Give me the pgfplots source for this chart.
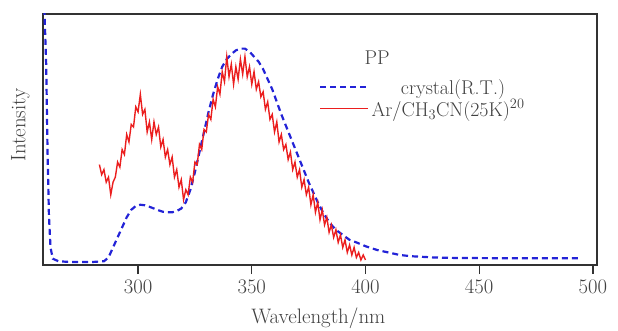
\documentclass[border=0pt]{standalone}
\usepackage{pgfplots}
\pgfplotsset{compat=1.18}
\definecolor{bluec}{RGB}{35,35,215}
\definecolor{redc}{RGB}{235,30,30}
\definecolor{axc}{RGB}{50,50,50}
\begin{document}
\begin{tikzpicture}
\begin{axis}[
  scale only axis, width=554bp, height=251bp,
  xmin=258.2, xmax=501.8, ymin=0, ymax=1,
  xtick={300,350,400,450,500}, ytick=\empty,
  xtick pos=bottom, tick align=outside,
  major tick length=9bp,
  axis line style={axc, line width=2.2bp},
  every tick/.style={axc, line width=1.2bp},
  ticklabel style={font=\fontsize{22}{23}\selectfont, text=black!75},
  xticklabel style={yshift=-3bp},
  xlabel={Wavelength/nm}, ylabel={Intensity},
  label style={font=\fontsize{21}{22}\selectfont, text=black!75},
  xlabel style={at={(axis description cs:0.497,-0.211)}, anchor=center},
  ylabel style={at={(axis description cs:-0.041,0.558)}, anchor=center},
  legend style={draw=none, fill=none, at={(axis description cs:0.493,0.757)}, anchor=north west,
    font=\fontsize{20}{21}\selectfont, text=black!75, row sep=0bp},
  legend image code/.code={\draw[mark repeat=2,mark phase=2,#1] plot coordinates {(0bp,0bp) (24bp,0bp) (48bp,0bp)};},
  clip=true,
]
\addplot[color=bluec, line width=2.2bp, dash pattern=on 6bp off 4bp] coordinates {
(258.8,1.02) (259.6,0.80) (260.2,0.45) (260.8,0.20) (261.5,0.07) (262.5,0.025)
(265,0.015) (270,0.012) (280,0.012) (285,0.015) (287,0.03) (289,0.07) (291,0.11)
(293,0.15) (295,0.19) (297,0.22) (299,0.235) (301,0.24) (303,0.238) (305,0.232)
(307,0.225) (309,0.218) (311,0.212) (313,0.21) (315,0.21) (317,0.215) (319,0.225)
(321,0.25) (323,0.30) (325,0.37) (327,0.45) (329,0.53) (331,0.61) (333,0.68)
(335,0.74) (337,0.79) (339,0.82) (341,0.84) (343,0.855) (345,0.862) (347,0.862)
(349,0.85) (351,0.83) (353,0.81) (355,0.78) (357,0.74) (359,0.70) (361,0.65)
(363,0.60) (365,0.555) (367,0.51) (369,0.465) (371,0.42) (373,0.375) (375,0.33)
(377,0.29) (379,0.25) (381,0.215) (383,0.185) (385,0.16) (387,0.14) (390,0.12)
(393,0.10) (396,0.09) (400,0.075) (405,0.06) (410,0.05) (415,0.04) (420,0.035)
(430,0.03) (440,0.028) (460,0.027) (480,0.027) (495,0.027)
};
\addlegendentry{\hspace{10bp}crystal(R.T.)}
\addplot[color=redc, line width=1.4bp] coordinates {
(283,0.40) (284,0.36) (285,0.38) (286,0.33) (287,0.35) (288,0.28) (289,0.33)
(290,0.35) (291,0.41) (292,0.39) (293,0.46) (294,0.44) (295,0.52) (296,0.49)
(297,0.56) (298,0.55) (299,0.63) (300,0.61) (301,0.68) (302,0.60) (303,0.62)
(304,0.53) (305,0.57) (306,0.50) (307,0.57) (308,0.52) (309,0.55) (310,0.47)
(311,0.50) (312,0.43) (313,0.46) (314,0.40) (315,0.43) (316,0.35) (317,0.38)
(318,0.31) (319,0.34) (320,0.26) (321,0.30) (322,0.28) (323,0.35) (324,0.33)
(325,0.41) (326,0.40) (327,0.48) (328,0.46) (329,0.54) (330,0.53) (331,0.60)
(332,0.58) (333,0.66) (334,0.63) (335,0.71) (336,0.68) (337,0.77) (338,0.73)
(339,0.83) (340,0.75) (341,0.80) (342,0.72) (343,0.79) (344,0.74) (345,0.82)
(346,0.76) (347,0.83) (348,0.75) (349,0.79) (350,0.72) (351,0.77) (352,0.70)
(353,0.73) (354,0.67) (355,0.69) (356,0.62) (357,0.65) (358,0.58) (359,0.60)
(360,0.53) (361,0.57) (362,0.49) (363,0.52) (364,0.46) (365,0.48) (366,0.42)
(367,0.45) (368,0.38) (369,0.41) (370,0.35) (371,0.38) (372,0.31) (373,0.34)
(374,0.28) (375,0.31) (376,0.24) (377,0.28) (378,0.21) (379,0.25) (380,0.18)
(381,0.22) (382,0.16) (383,0.19) (384,0.13) (385,0.16) (386,0.11) (387,0.14)
(388,0.09) (389,0.12) (390,0.07) (391,0.10) (392,0.05) (393,0.08) (394,0.04)
(395,0.07) (396,0.03) (397,0.05) (398,0.02) (399,0.04) (400,0.02)
};
\addlegendentry{Ar/CH$_3$CN(25K)$^{20}$}
\node[font=\fontsize{20}{21}\selectfont, text=black!75] at (axis description cs:0.603,0.825) {PP};
\coordinate (ll) at (rel axis cs:0,0);
\coordinate (ur) at (rel axis cs:1,1);
\end{axis}
\pgfresetboundingbox
\useasboundingbox ([xshift=-43bp,yshift=-66bp]ll) rectangle ([xshift=21bp,yshift=14bp]ur);
\end{tikzpicture}
\end{document}
